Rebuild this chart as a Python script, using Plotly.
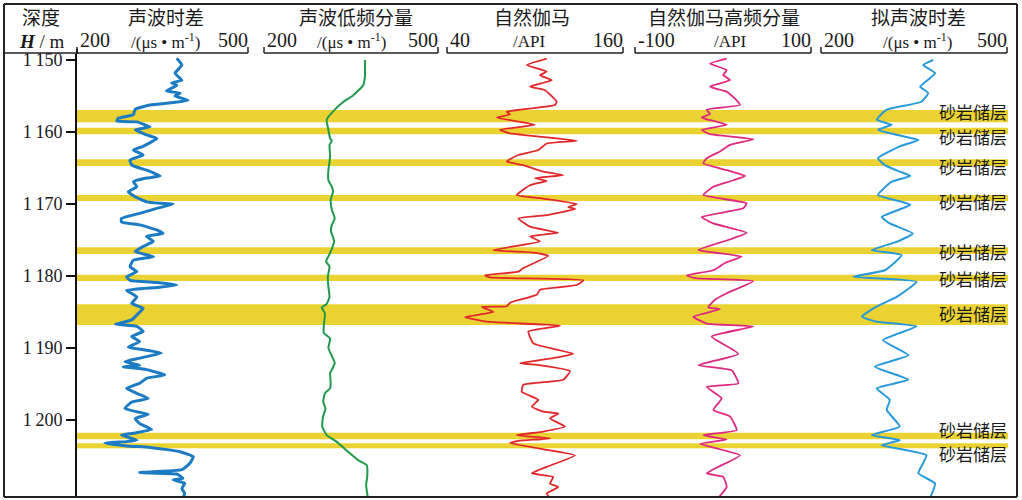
import plotly.graph_objects as go

# ---------------- data ----------------
depth_ticks = [1150, 1160, 1170, 1180, 1190, 1200]
depth_ticktext = ["1\u2009150", "1\u2009160", "1\u2009170", "1\u2009180", "1\u2009190", "1\u2009200"]

# 声波时差 (μs/m)
ac_depth = [1149.76, 1150.7, 1151.85, 1152.8, 1153.2, 1153.5, 1154.3, 1154.6, 1155.0, 1155.6, 1155.9,
            1156.25, 1156.85, 1157.6, 1158.1, 1158.5, 1158.6, 1159.0, 1159.3, 1159.7, 1160.4, 1160.9,
            1162.0, 1162.5, 1163.2, 1163.9, 1164.6, 1165.3, 1166.1, 1166.4, 1166.9, 1167.6, 1168.3,
            1169.0, 1169.7, 1169.9, 1170.0, 1170.6, 1171.3, 1172.0, 1172.5, 1172.9, 1173.6, 1174.1,
            1174.5, 1175.2, 1175.9, 1176.6, 1177.3, 1177.8, 1178.7, 1179.4, 1180.1, 1180.6, 1180.9,
            1181.25, 1181.6, 1182.0, 1182.9, 1183.8, 1184.5, 1185.4, 1186.1, 1186.7, 1187.0, 1187.7,
            1188.4, 1189.1, 1189.9, 1190.3, 1190.7, 1191.4, 1191.9, 1192.4, 1192.6, 1193.0, 1193.75,
            1194.2, 1194.9, 1195.6, 1196.3, 1197.0, 1197.5, 1198.4, 1198.85, 1199.2, 1199.8, 1200.5,
            1201.3, 1201.85, 1202.1, 1202.8, 1203.0, 1203.2, 1203.6, 1203.8, 1204.4, 1205.1, 1206.0,
            1206.9, 1207.3, 1207.5, 1208.1, 1208.3, 1208.8, 1209.5, 1210.2, 1210.8]
ac_values = [375, 384, 372, 384, 366, 375, 357, 381, 372, 395, 369,
             328, 302, 299, 272, 270, 305, 319, 328, 302, 322, 340,
             316, 299, 316, 293, 296, 322, 346, 322, 299, 305, 290,
             302, 322, 346, 369, 340, 310, 278, 278, 310, 340, 351,
             322, 334, 316, 302, 334, 299, 293, 305, 287, 293, 340,
             375, 340, 287, 305, 296, 316, 305, 296, 267, 305, 316,
             296, 310, 290, 322, 348, 310, 284, 310, 281, 322, 354,
             322, 310, 287, 305, 325, 296, 284, 305, 325, 302, 310,
             331, 299, 278, 305, 287, 249, 287, 328, 381, 404, 398,
             384, 310, 375, 386, 369, 389, 384, 389, 386]

# 声波低频分量 (μs/m)
aclf_depth = [1150.0, 1152.3, 1153.5, 1154.9, 1155.8, 1156.9, 1158.3, 1159.7, 1160.9, 1161.2, 1161.8,
              1163.4, 1165.3, 1166.7, 1167.6, 1168.3, 1169.4, 1170.8, 1172.0, 1172.9, 1173.8, 1175.2,
              1176.8, 1178.0, 1178.7, 1180.1, 1181.5, 1182.9, 1183.9, 1184.35, 1185.2, 1187.0, 1187.9,
              1188.7, 1190.0, 1192.1, 1193.5, 1194.9, 1195.6, 1196.3, 1197.45, 1198.4, 1199.5, 1200.9,
              1202.1, 1203.0, 1204.4, 1205.6, 1206.25, 1207.9, 1209.0, 1209.7, 1210.8]
aclf_values = [374, 374, 371, 354, 337, 322, 308, 311, 314, 317, 313,
               314, 311, 311, 317, 319, 315, 317, 322, 317, 315.5, 321,
               314, 307, 313, 310, 311, 313, 308, 299.5, 305, 303, 303,
               314, 311, 322, 314, 315, 314, 305, 302, 306, 302, 300.5,
               308, 325, 345, 363, 377, 378, 376, 377, 379]

# 自然伽马 (API)
gr_depth = [1149.8, 1150.7, 1151.6, 1152.1, 1152.8, 1153.7, 1154.2, 1155.8, 1156.25, 1156.9, 1157.2,
            1157.55, 1158.0, 1158.6, 1159.0, 1159.7, 1160.2, 1160.6, 1161.2, 1161.6, 1162.5, 1163.2,
            1164.1, 1164.6, 1165.5, 1166.0, 1166.4, 1166.8, 1167.4, 1168.75, 1169.2, 1170.0, 1170.4,
            1170.7, 1171.5, 1172.0, 1173.15, 1174.0, 1174.5, 1175.2, 1176.4, 1176.75, 1177.2, 1178.9,
            1179.4, 1179.9, 1180.2, 1180.6, 1181.25, 1181.9, 1182.6, 1183.7, 1184.2, 1184.3, 1185.0,
            1185.7, 1186.35, 1186.9, 1187.7, 1189.35, 1190.8, 1191.4, 1192.1, 1192.4, 1193.2, 1194.4,
            1195.1, 1196.1, 1197.2, 1198.15, 1198.85, 1199.1, 1199.8, 1200.9, 1201.6, 1202.1, 1202.55,
            1202.9, 1203.2, 1204.2, 1204.9, 1206.5, 1207.4, 1207.9, 1208.8, 1209.3, 1210.2, 1210.8]
gr_values = [108, 94.4, 108, 103.4, 111.4, 96.6, 106.8, 114.8, 113.7, 89.8, 80.7,
             83, 73.9, 89.8, 100, 76.1, 83, 101.2, 128.5, 108, 102.3, 88.6,
             80.7, 92, 105.7, 119.3, 100, 108, 96.6, 87.5, 103.4, 128.5, 122.7,
             127.3, 109.1, 88.6, 96.6, 115.9, 96.6, 103.4, 71.6, 98.9, 109.1, 92,
             88.6, 65.9, 69.3, 133, 128.5, 103.4, 101.2, 83, 80.7, 63.7, 71.6,
             52.3, 67.1, 117.1, 95.5, 98.9, 126.1, 112.5, 89.8, 103.4, 123.9, 119.3,
             92, 91, 102.3, 97.8, 105.7, 115.9, 110.2, 120.5, 105.7, 87.5, 110.2,
             88.6, 83, 110.2, 127.3, 108, 97.8, 112.5, 110.2, 115.9, 108, 110.2]

# 自然伽马高频分量 (API)
grhf_depth = [1149.8, 1150.5, 1151.4, 1152.1, 1152.8, 1153.7, 1154.4, 1155.6, 1156.25, 1156.9, 1157.5,
              1158.0, 1159.0, 1159.7, 1160.3, 1161.0, 1161.8, 1162.7, 1163.65, 1164.35, 1165.3, 1166.1,
              1166.7, 1167.6, 1168.75, 1169.9, 1170.6, 1171.8, 1172.7, 1174.0, 1175.0, 1176.4, 1177.3,
              1178.2, 1179.2, 1179.9, 1180.3, 1180.7, 1182.4, 1183.3, 1184.35, 1184.6, 1185.65, 1186.6,
              1187.0, 1188.4, 1190.8, 1192.4, 1193.1, 1194.9, 1195.4, 1197.0, 1198.6, 1199.5, 1201.4,
              1202.1, 1202.7, 1203.3, 1204.9, 1206.5, 1207.4, 1207.9, 1209.3, 1210.8]
grhf_values = [4.2, -14.8, 4.2, 0.3, 7.9, -14.8, 4.2, 15.5, 19.3, -18.5, -14.8,
               -24.2, 4.2, -24.2, -14.8, 34.4, 7.9, -3.4, -18.5, -22.4, 4.2, 25,
               11.7, -11, -22.4, 26.9, 23, -24.2, -11, 26.9, 6, -28, 21.2,
               2.3, -11, -41.3, -31.8, 34.4, 4.2, -9.1, -16.7, -3.4, -33.8, -18.5,
               34.4, -12.9, 17.4, -28, 9.9, 17.4, -18.5, -1.5, -11, 7.9, 15.5,
               -22.4, 4.2, -26.1, 19.3, -5.3, -18.5, 0.3, 4.2, -5.3]

# 拟声波时差 (μs/m)
pac_depth = [1150.0, 1150.7, 1151.85, 1153.7, 1154.6, 1155.8, 1156.9, 1158.3, 1159.0, 1159.7, 1160.7,
             1161.1, 1162.0, 1163.65, 1164.6, 1165.5, 1166.1, 1166.9, 1168.75, 1170.1, 1171.8, 1172.7,
             1174.1, 1175.2, 1176.4, 1177.1, 1179.2, 1180.1, 1180.8, 1182.9, 1184.35, 1185.65, 1186.35,
             1187.0, 1188.9, 1191.0, 1192.6, 1194.4, 1195.6, 1197.2, 1198.6, 1200.9, 1202.1, 1202.8,
             1203.5, 1204.9, 1207.4, 1208.8, 1210.8]
pac_values = [381, 365, 384, 360, 373, 362, 306, 290, 314, 292, 338,
              357, 327, 292, 303, 327, 344, 314, 292, 344, 298, 311,
              348, 324, 282, 330, 303, 252, 354, 322, 287, 266, 290,
              354, 300, 341, 287, 341, 290, 311, 306, 327, 282, 327,
              298, 370, 357, 384, 376]

# 砂岩储层 (depth ranges)
band_top = [1156.94, 1159.40, 1163.79, 1168.75, 1176.01, 1179.82, 1183.93, 1201.76, 1203.24]
band_bottom = [1158.65, 1160.32, 1164.72, 1169.58, 1176.94, 1180.69, 1186.81, 1202.68, 1203.93]
label_depth = [1157.2, 1160.6, 1164.86, 1169.72, 1176.53, 1180.28, 1185.14, 1201.25, 1204.6]
label_text = "砂岩储层"

track_titles = ["声波时差", "声波低频分量", "自然伽马", "自然伽马高频分量", "拟声波时差"]
track_units = ["/(μs • m<sup>-1</sup>)", "/(μs • m<sup>-1</sup>)", "/API", "/API", "/(μs • m<sup>-1</sup>)"]
track_min = [200, 200, 40, -100, 200]
track_max = [500, 500, 160, 100, 500]
track_min_label = ["200", "200", "40", "-100", "200"]
track_max_label = ["500", "500", "160", "100", "500"]

# ---------------- layout helpers ----------------
W, H = 1022, 500
ML, MR, MT, MB = 77, 5, 54, 3
PW = W - ML - MR
PH = H - MT - MB


def px(x):
    return (x - ML) / PW


def py(y):
    return (H - MB - y) / PH


track_px = [(77, 248), (264, 438), (447, 623), (635, 811), (821, 1007)]
title_cx = [166, 356, 532, 724, 918]
unit_cx = [165, 351, 529, 730, 917]

CJK = "Noto Sans CJK SC"
SERIF = "Liberation Serif"
TXT = "#1a1a1a"
LINE = "#222"

fig = go.Figure()

series = [
    (ac_values, ac_depth, "#1c7bc3", 3.0),
    (aclf_values, aclf_depth, "#1f9a4a", 2.0),
    (gr_values, gr_depth, "#e0282b", 1.8),
    (grhf_values, grhf_depth, "#dd2a80", 1.8),
    (pac_values, pac_depth, "#2899dc", 2.0),
]
for i, (xv, dv, col, lw) in enumerate(series):
    xa = "x" if i == 0 else f"x{i + 1}"
    fig.add_trace(go.Scatter(x=xv, y=dv, mode="lines", xaxis=xa, yaxis="y",
                             line=dict(color=col, width=lw, shape="spline", smoothing=0.4),
                             showlegend=False, hoverinfo="skip"))

layout = dict(
    width=W, height=H,
    margin=dict(l=ML, r=MR, t=MT, b=MB),
    paper_bgcolor="white", plot_bgcolor="white",
    showlegend=False,
    yaxis=dict(range=[1210.69, 1149.17], domain=[0, 1], tickvals=depth_ticks, ticktext=depth_ticktext,
               ticks="outside", ticklen=9, tickwidth=1.5, tickcolor="#111",
               showline=True, linewidth=2, linecolor="#111", showgrid=False, zeroline=False,
               tickfont=dict(family=SERIF, size=18, color=TXT)),
)
for i, (a, b) in enumerate(track_px):
    key = "xaxis" if i == 0 else f"xaxis{i + 1}"
    layout[key] = dict(domain=[px(a), px(b)], range=[track_min[i], track_max[i]], visible=False,
                       anchor="y", showgrid=False, zeroline=False)
fig.update_layout(**layout)

shapes = []
# reservoir bands
for t, b in zip(band_top, band_bottom):
    shapes.append(dict(type="rect", xref="paper", yref="y", x0=px(77), x1=px(1008), y0=t, y1=b,
                       fillcolor="#ead232", line=dict(width=0), layer="below"))


def seg(x0, y0, x1, y1, w=1.5):
    shapes.append(dict(type="line", xref="paper", yref="paper", x0=px(x0), x1=px(x1), y0=py(y0), y1=py(y1),
                       line=dict(color=LINE, width=w)))


# outer frame
seg(4, 4, 1017, 4, 2)
seg(4, 497, 1017, 497, 2)
seg(4, 4, 4, 497, 2)
seg(1017, 4, 1017, 497, 2)
# depth column header line and plot left edge
seg(4, 53, 77, 53)
seg(77, 49, 77, 54, 2)
# track scale brackets
for a, b in track_px:
    seg(a, 53, b, 53)
    seg(a, 47, a, 53)
    seg(b, 47, b, 53)
fig.update_layout(shapes=shapes)

ann = []
# depth header
ann.append(dict(text="深度", x=px(41), y=py(17), xref="paper", yref="paper", showarrow=False,
                font=dict(family=CJK, size=19, color=TXT), xanchor="center", yanchor="middle"))
ann.append(dict(text="<b><i>H</i></b> / m", x=px(42), y=py(41), xref="paper", yref="paper", showarrow=False,
                font=dict(family=SERIF, size=19, color=TXT), xanchor="center", yanchor="middle"))
for i, (a, b) in enumerate(track_px):
    ann.append(dict(text=track_titles[i], x=px(title_cx[i]), y=py(17), xref="paper", yref="paper",
                    showarrow=False, font=dict(family=CJK, size=19, color=TXT),
                    xanchor="center", yanchor="middle"))
    ann.append(dict(text=track_units[i], x=px(unit_cx[i]), y=py(41), xref="paper", yref="paper",
                    showarrow=False, font=dict(family=SERIF, size=17, color=TXT),
                    xanchor="center", yanchor="middle"))
    ann.append(dict(text=track_min_label[i], x=px(a + 1), y=py(40), xref="paper", yref="paper",
                    showarrow=False, font=dict(family=SERIF, size=20, color=TXT),
                    xanchor="left", yanchor="middle"))
    ann.append(dict(text=track_max_label[i], x=px(b + 2), y=py(40), xref="paper", yref="paper",
                    showarrow=False, font=dict(family=SERIF, size=20, color=TXT),
                    xanchor="right", yanchor="middle"))
for d in label_depth:
    ann.append(dict(text=label_text, x=px(1009), y=d, xref="paper", yref="y", showarrow=False,
                    font=dict(family=CJK, size=17, color=TXT), xanchor="right", yanchor="middle"))
fig.update_layout(annotations=ann)

fig.write_html("out.html", config={"displayModeBar": False},
               post_script="document.body.style.margin='0px';document.body.style.overflow='hidden';")
